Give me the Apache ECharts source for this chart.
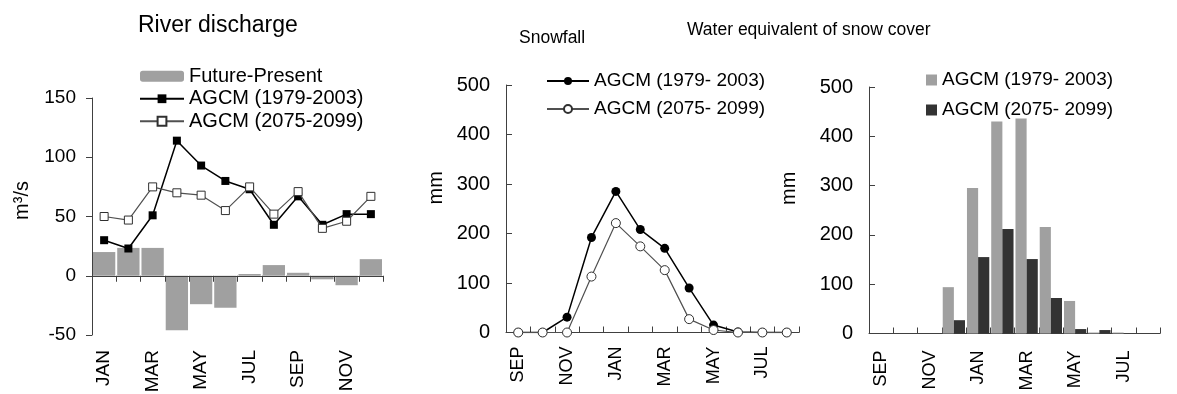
<!DOCTYPE html>
<html>
<head>
<meta charset="utf-8">
<script src="https://cdn.jsdelivr.net/npm/echarts@6/dist/echarts.min.js"></script>
<style>
html,body{margin:0;padding:0;background:#fff;}
#chart{width:1177px;height:394px;}
</style>
</head>
<body>
<div id="chart"></div>
<script>
// Panel 1: River discharge (m3/s)
var months1 = ['JAN','FEB','MAR','APR','MAY','JUN','JUL','AUG','SEP','OCT','NOV','DEC'];
var dischargeDiff = [20, 23.5, 23.5, -46, -24, -27, 1.5, 9, 2.5, -3, -8, 14];
var dischargePresent = [30, 23, 51, 114, 93, 80, 73, 43, 67, 43, 52, 52];
var dischargeFuture = [50, 47, 75, 70, 68, 55, 75, 52, 71, 40, 46, 67];
var dischargeTicks = [-50, 0, 50, 100, 150];

// Panel 2: Snowfall (mm)
var months2 = ['SEP','OCT','NOV','DEC','JAN','FEB','MAR','APR','MAY','JUN','JUL','AUG'];
var snowPresent = [0, 0, 31, 192, 285, 208, 170, 90, 15, 1, 0, 0];
var snowFuture = [0, 0, 0, 113, 221, 174, 126, 27, 5, 0, 0, 0];

// Panel 3: Water equivalent of snow cover (mm)
var swePresent = [0, 0, 0, 94, 295, 430, 436, 216, 66, 2, 2, 0];
var sweFuture = [0, 0, 0, 27, 155, 212, 151, 72, 9, 7, 0, 0];
var mmTicks = [0, 100, 200, 300, 400, 500];

var FONT = 'Liberation Sans, Arial, sans-serif';
var AX = '#404040';

function catAxis(idx, data, margin, inside, z) {
  return {
    type: 'category', gridIndex: idx, data: data, boundaryGap: true, z: z || 0,
    axisLine: {show: true, onZero: true, lineStyle: {color: AX, width: 1}},
    axisTick: {show: true, inside: inside, length: 6, interval: 0, alignWithLabel: false, lineStyle: {color: AX}},
    axisLabel: {interval: 1, rotate: 90, margin: margin, color: '#000', fontFamily: FONT, fontSize: idx === 0 ? 19 : 18},
    splitLine: {show: false}
  };
}
function valAxis(idx, ticks, inside, name, gap, pad, fs) {
  return {
    type: 'value', gridIndex: idx, min: ticks[0], max: ticks[ticks.length - 1],
    interval: ticks[1] - ticks[0],
    name: name, nameLocation: 'middle', nameRotate: 90, nameGap: gap,
    nameTextStyle: {color: '#000', fontFamily: FONT, fontSize: 20, padding: [0, 0, 0, pad]},
    axisLine: {show: true, lineStyle: {color: AX, width: 1}},
    axisTick: {show: true, inside: inside, length: 6, lineStyle: {color: AX}},
    axisLabel: {margin: 16, color: '#000', fontFamily: FONT, fontSize: fs},
    splitLine: {show: false}
  };
}

var chart = echarts.init(document.getElementById('chart'));
chart.setOption({
  animation: false,
  backgroundColor: '#fff',
  title: [
    {text: 'River discharge', left: 133, top: 9, textStyle: {fontFamily: FONT, fontSize: 23, fontWeight: 'normal', color: '#000'}},
    {text: 'Snowfall', left: 514, top: 24, textStyle: {fontFamily: FONT, fontSize: 17.5, fontWeight: 'normal', color: '#000'}},
    {text: 'Water equivalent of snow cover', left: 682, top: 16, textStyle: {fontFamily: FONT, fontSize: 17.5, fontWeight: 'normal', color: '#000'}}
  ],
  legend: [
    {
      data: ['Future-Present', 'AGCM (1979-2003)', 'AGCM (2075-2099)'],
      orient: 'vertical', left: 134, top: 60, itemWidth: 44, itemHeight: 11, itemGap: 0,
      textStyle: {fontFamily: FONT, fontSize: 20, color: '#000', lineHeight: 22.5}
    },
    {
      data: ['AGCM (1979- 2003)', 'AGCM (2075- 2099)'],
      orient: 'vertical', left: 541, top: 62, itemWidth: 42, itemHeight: 10, itemGap: 0,
      textStyle: {fontFamily: FONT, fontSize: 19, color: '#000', lineHeight: 28}
    },
    {
      data: ['AGCM (1979- 2003) ', 'AGCM (2075- 2099) '],
      orient: 'vertical', left: 921, top: 60, itemWidth: 11, itemHeight: 11, itemGap: 0, icon: 'rect',
      textStyle: {fontFamily: FONT, fontSize: 19, color: '#000', lineHeight: 30}
    }
  ],
  grid: [
    {left: 92, top: 98, width: 291, height: 237, outerBoundsMode: 'none', containLabel: false},
    {left: 506, top: 85, width: 293, height: 247.5, outerBoundsMode: 'none', containLabel: false},
    {left: 869, top: 87, width: 291, height: 246.5, outerBoundsMode: 'none', containLabel: false}
  ],
  xAxis: [
    catAxis(0, months1, 15, false, 3),
    catAxis(1, months2, 14, true),
    catAxis(2, months2, 17, true)
  ],
  yAxis: [
    valAxis(0, dischargeTicks, false, 'm³/s', 60, 32, 19),
    valAxis(1, mmTicks, true, 'mm', 60, 42, 20),
    valAxis(2, mmTicks, true, 'mm', 70, 44, 20)
  ],
  series: [
    {
      name: 'Future-Present', type: 'bar', xAxisIndex: 0, yAxisIndex: 0,
      data: dischargeDiff, barCategoryGap: '8%', itemStyle: {color: '#a0a0a0'}
    },
    {
      name: 'AGCM (1979-2003)', type: 'line', xAxisIndex: 0, yAxisIndex: 0,
      data: dischargePresent, symbol: 'rect', symbolSize: 8,
      lineStyle: {color: '#000', width: 1.5}, itemStyle: {color: '#000'}, z: 3
    },
    {
      name: 'AGCM (2075-2099)', type: 'line', xAxisIndex: 0, yAxisIndex: 0,
      data: dischargeFuture, symbol: 'rect', symbolSize: 8,
      lineStyle: {color: '#505050', width: 1.2},
      itemStyle: {color: '#fff', borderColor: '#303030', borderWidth: 1}, z: 4
    },
    {
      name: 'AGCM (1979- 2003)', type: 'line', xAxisIndex: 1, yAxisIndex: 1,
      data: snowPresent, symbol: 'circle', symbolSize: 9,
      lineStyle: {color: '#000', width: 1.5}, itemStyle: {color: '#000'}, z: 3
    },
    {
      name: 'AGCM (2075- 2099)', type: 'line', xAxisIndex: 1, yAxisIndex: 1,
      data: snowFuture, symbol: 'circle', symbolSize: 9,
      lineStyle: {color: '#505050', width: 1.2},
      itemStyle: {color: '#fff', borderColor: '#303030', borderWidth: 1}, z: 4
    },
    {
      name: 'AGCM (1979- 2003) ', type: 'bar', xAxisIndex: 2, yAxisIndex: 2,
      data: swePresent, barGap: '0%', barCategoryGap: '8%', itemStyle: {color: '#a0a0a0'}
    },
    {
      name: 'AGCM (2075- 2099) ', type: 'bar', xAxisIndex: 2, yAxisIndex: 2,
      data: sweFuture, barGap: '0%', barCategoryGap: '8%', itemStyle: {color: '#333333'}
    }
  ]
});
</script>
</body>
</html>
